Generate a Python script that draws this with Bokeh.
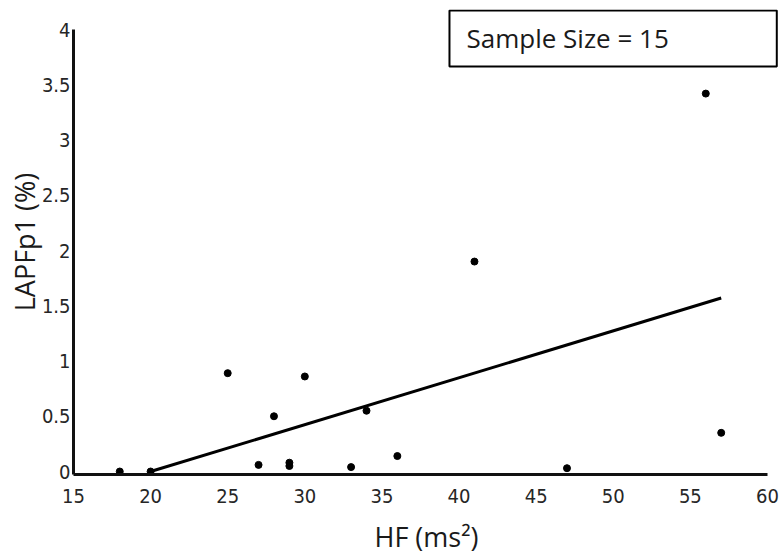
from bokeh.plotting import figure
from bokeh.models import Range1d, Label, ColumnDataSource
from bokeh.embed import file_html
from bokeh.resources import INLINE

# Data
hf = [18, 20, 25, 27, 28, 29, 29, 30, 33, 34, 36, 41, 47, 56, 57]
lapf = [0.0, 0.0, 0.89, 0.06, 0.5, 0.08, 0.05, 0.86, 0.04, 0.55, 0.14, 1.9, 0.03, 3.42, 0.35]
fit_x = [20, 57]
fit_y = [0.0, 1.57]
x_ticks = [15, 20, 25, 30, 35, 40, 45, 50, 55, 60]
y_ticks = [0, 0.5, 1, 1.5, 2, 2.5, 3, 3.5, 4]
sample_text = "Sample Size = 15"

p = figure(frame_width=706, frame_height=465, output_backend="svg", toolbar_location=None,
           x_range=Range1d(15, 60.78), y_range=Range1d(-0.027, 4.181),
           min_border_left=73, min_border_right=1, min_border_top=9, min_border_bottom=75)

p.outline_line_color = None
p.grid.visible = False
p.background_fill_color = "white"
p.border_fill_color = "white"

src = ColumnDataSource(dict(x=hf, y=lapf))
p.line(fit_x, fit_y, line_color="black", line_width=3)
p.scatter("x", "y", source=src, size=7, fill_color="black", line_color="black")

for ax in (p.xaxis[0], p.yaxis[0]):
    ax.axis_line_width = 3
    ax.axis_line_color = "#111111"
    ax.major_tick_line_color = None
    ax.minor_tick_line_color = None
    ax.major_tick_out = 0
    ax.major_tick_in = 0
    ax.major_label_text_font = "'DejaVu Sans Condensed', Roboto, sans-serif"
    ax.major_label_text_font_size = "20px"
    ax.major_label_text_color = "#262626"
    ax.axis_label_text_font = "Open Sans"
    ax.axis_label_text_font_size = "27px"
    ax.axis_label_text_font_style = "normal"
    ax.axis_label_text_color = "#1a1a1a"

p.yaxis.axis_label_text_line_height = 1.0
p.xaxis.bounds = (15, 60)
p.yaxis.bounds = (-0.027, 4)
p.xaxis.ticker = x_ticks
p.yaxis.ticker = y_ticks
p.yaxis.major_label_overrides = {0: "0", 1: "1", 2: "2", 3: "3", 4: "4"}
p.xaxis.major_label_standoff = 14
p.yaxis.major_label_standoff = 3
p.xaxis.axis_label = "HF (ms²)"
p.yaxis.axis_label = "LAPFp1 (%)"
p.xaxis.axis_label_standoff = 12
p.yaxis.axis_label_standoff = -4

box = Label(x=39.38, y=4.172, text=sample_text, text_font="Open Sans", text_font_size="26px",
            text_color="#1a1a1a", text_align="left", text_baseline="top",
            padding=dict(left=17, right=108, top=10, bottom=10),
            border_line_color="black", border_line_width=2,
            background_fill_color="white")
p.add_layout(box)

open("out.html", "w").write(file_html(p, INLINE))
